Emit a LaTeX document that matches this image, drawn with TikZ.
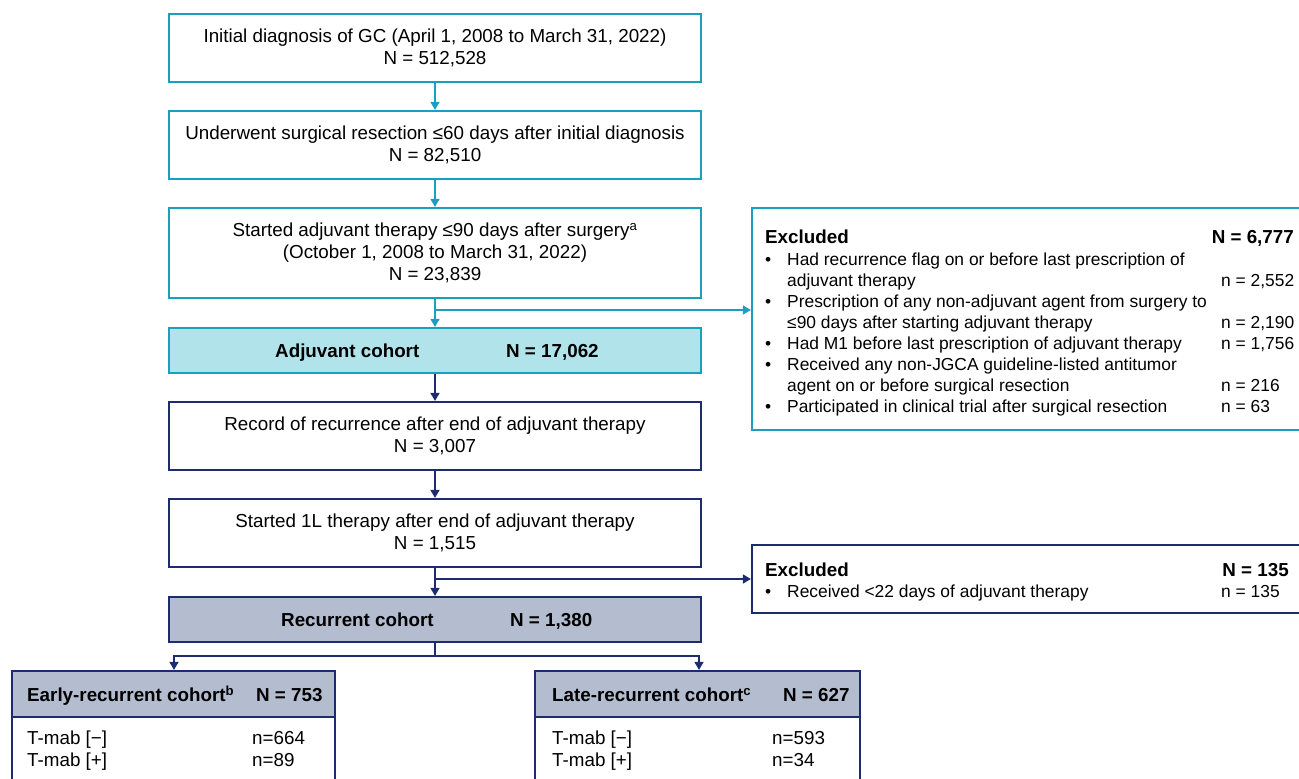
\documentclass[tikz,border=0pt]{standalone}
\usepackage{fontspec}
\setmainfont{Liberation Sans}
\usetikzlibrary{arrows.meta,calc}
\definecolor{cteal}{RGB}{26,160,190}
\definecolor{cadj}{RGB}{177,227,234}
\definecolor{cnavy}{RGB}{28,44,110}
\definecolor{cgrey}{RGB}{179,189,207}
\begin{document}
\begin{tikzpicture}[x=1pt,y=-1pt,
  every node/.style={font=\fontsize{18.8}{22}\selectfont, inner sep=0pt},
  tealbox/.style={draw=cteal, line width=2.2pt, minimum width=532pt, align=center},
  navybox/.style={draw=cnavy, line width=2.2pt, minimum width=532pt, align=center},
  tconn/.style={draw=cteal, line width=1.5pt},
  nconn/.style={draw=cnavy, line width=1.5pt},
  tip/.style={-{Triangle[width=9pt,length=8pt]}},
  txt/.style={anchor=base west},
  rtxt/.style={anchor=base east},
  itm/.style={anchor=base west, font=\fontsize{17.4}{21}\selectfont},
  bold/.style={font=\fontsize{18.8}{22}\selectfont\bfseries}]
\useasboundingbox (0,0) rectangle (1299,779);
\clip (0,0) rectangle (1299,779);

% main column
\node[tealbox, minimum height=68pt] (b1) at (435,48) {Initial diagnosis of GC (April 1, 2008 to March 31, 2022)\\N = 512,528};
\node[tealbox, minimum height=68pt] (b2) at (435,145) {Underwent surgical resection ≤60 days after initial diagnosis\\N = 82,510};
\node[tealbox, minimum height=90pt] (b3) at (435,253) {Started adjuvant therapy ≤90 days after surgery\textsuperscript{a}\\(October 1, 2008 to March 31, 2022)\\N = 23,839};
\node[tealbox, fill=cadj, minimum height=45pt] (adj) at (435,350.5) {};
\node[bold, txt] (adjt) at (275,357) {Adjuvant cohort};
\node[bold, txt] (adjn) at (506,357) {N = 17,062};
\node[navybox, minimum height=68pt] (rec) at (435,436) {Record of recurrence after end of adjuvant therapy\\N = 3,007};
\node[navybox, minimum height=68pt] (s1l) at (435,533) {Started 1L therapy after end of adjuvant therapy\\N = 1,515};
\node[navybox, fill=cgrey, minimum height=45pt] (rc) at (435,619.5) {};
\node[bold, txt] (rct) at (281,626) {Recurrent cohort};
\node[bold, txt] (rcn) at (510,626) {N = 1,380};

% excluded 1
\node[draw=cteal, line width=2.2pt, minimum width=558pt, minimum height=222pt] (ex1) at (1031,319) {};
\node[bold, txt] (e1h) at (765,243.5) {Excluded};
\node[bold, rtxt] (e1n) at (1294,243.5) {N = 6,777};
\node[itm] (e1b1) at (765,265) {•};
\node[itm] (e1l1) at (787,265) {Had recurrence flag on or before last prescription of};
\node[itm] (e1l2) at (787,286) {adjuvant therapy};
\node[itm] (e1n2) at (1221,286) {n = 2,552};
\node[itm] (e1b3) at (765,307) {•};
\node[itm] (e1l3) at (787,307) {Prescription of any non-adjuvant agent from surgery to};
\node[itm] (e1l4) at (787,328) {≤90 days after starting adjuvant therapy};
\node[itm] (e1n4) at (1221,328) {n = 2,190};
\node[itm] (e1b5) at (765,349) {•};
\node[itm] (e1l5) at (787,349) {Had M1 before last prescription of adjuvant therapy};
\node[itm] (e1n5) at (1221,349) {n = 1,756};
\node[itm] (e1b6) at (765,370) {•};
\node[itm] (e1l6) at (787,370) {Received any non-JGCA guideline-listed antitumor};
\node[itm] (e1l7) at (787,391) {agent on or before surgical resection};
\node[itm] (e1n7) at (1221,391) {n = 216};
\node[itm] (e1b8) at (765,412) {•};
\node[itm] (e1l8) at (787,412) {Participated in clinical trial after surgical resection};
\node[itm] (e1n8) at (1221,412) {n = 63};

% excluded 2
\node[draw=cnavy, line width=2.2pt, minimum width=558pt, minimum height=68pt] (ex2) at (1031,579) {};
\node[bold, txt] (e2h) at (765,576.5) {Excluded};
\node[bold, rtxt] (e2n) at (1289,576.5) {N = 135};
\node[itm] (e2b1) at (765,597.5) {•};
\node[itm] (e2l1) at (787,597.5) {Received <22 days of adjuvant therapy};
\node[itm] (e2n1) at (1221,597.5) {n = 135};

% bottom cohorts
\node[draw=cnavy, line width=2.2pt, minimum width=323pt, minimum height=130pt] (early) at (173.5,736) {};
\node[draw=cnavy, line width=2.2pt, fill=cgrey, minimum width=323pt, minimum height=46pt] (earlyh) at (173.5,694) {};
\node[bold, txt] (eht) at (27,701.5) {Early-recurrent cohort\textsuperscript{b}};
\node[bold, txt] (ehn) at (256,701.5) {N = 753};
\node[txt] (et1) at (27,744.5) {T-mab [−]};
\node[txt] (en1) at (252,744.5) {n=664};
\node[txt] (et2) at (27,766.5) {T-mab [+]};
\node[txt] (en2) at (252,766.5) {n=89};

\node[draw=cnavy, line width=2.2pt, minimum width=325pt, minimum height=130pt] (late) at (697.5,736) {};
\node[draw=cnavy, line width=2.2pt, fill=cgrey, minimum width=325pt, minimum height=46pt] (lateh) at (697.5,694) {};
\node[bold, txt] (lht) at (552,701.5) {Late-recurrent cohort\textsuperscript{c}};
\node[bold, txt] (lhn) at (783,701.5) {N = 627};
\node[txt] (lt1) at (552,744.5) {T-mab [−]};
\node[txt] (ln1) at (772,744.5) {n=593};
\node[txt] (lt2) at (552,766.5) {T-mab [+]};
\node[txt] (ln2) at (772,766.5) {n=34};

% connectors
\draw[tconn, tip] (b1.south) -- (b2.north);
\draw[tconn, tip] (b2.south) -- (b3.north);
\coordinate (j1) at (435,310);
\draw[tconn] (b3.south) -- (j1);
\draw[tconn, tip] (j1) -- (adj.north);
\draw[tconn, tip] (j1) -- (j1 -| ex1.west);
\draw[nconn, tip] (adj.south) -- (rec.north);
\draw[nconn, tip] (rec.south) -- (s1l.north);
\coordinate (j2) at (435,579);
\draw[nconn] (s1l.south) -- (j2);
\draw[nconn, tip] (j2) -- (rc.north);
\draw[nconn, tip] (j2) -- (j2 -| ex2.west);
\coordinate (j3) at (435,656);
\coordinate (ea) at (174,656);
\coordinate (la) at (699,656);
\draw[nconn] (rc.south) -- (j3);
\draw[nconn, tip] (j3) -- (ea) -- (ea |- earlyh.north);
\draw[nconn, tip] (j3) -- (la) -- (la |- lateh.north);
\end{tikzpicture}
\end{document}
